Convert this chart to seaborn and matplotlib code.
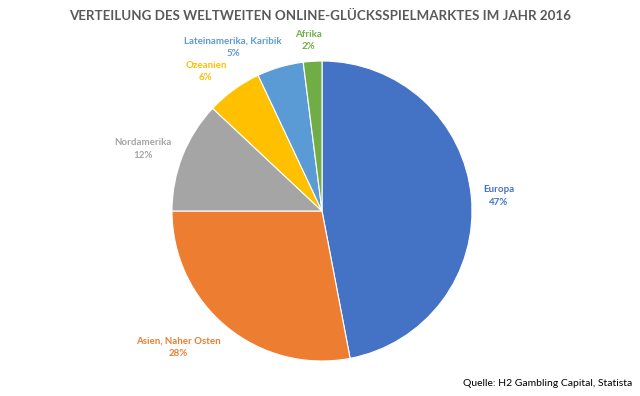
import matplotlib
matplotlib.use("Agg")
import matplotlib.pyplot as plt
import seaborn as sns
import numpy as np

categories = ["Europa", "Asien, Naher Osten", "Nordamerika", "Ozeanien", "Lateinamerika, Karibik", "Afrika"]
values = [47, 28, 12, 6, 5, 2]
colors = ["#4472C4", "#ED7D31", "#A5A5A5", "#FFC000", "#5B9BD5", "#70AD47"]
# label placement (angle in degrees, radius relative to pie radius)
label_layout = [(4.8, 1.18), (-136.6, 1.32), (160.9, 1.26), (129.8, 1.21), (118.5, 1.24), (94.7, 1.14)]

sns.set_theme(style="white")
plt.rcParams["font.family"] = ["Lato", "DejaVu Sans"]

fig = plt.figure(figsize=(6.4, 3.96), dpi=100)
ax = fig.add_axes([(322 - 150) / 640, (185 - 150) / 396, 300 / 640, 300 / 396])
wedges, _ = ax.pie(values, colors=colors, startangle=90, counterclock=False,
                   wedgeprops=dict(edgecolor="white", linewidth=0.8))
ax.set_xlim(-1, 1)
ax.set_ylim(-1, 1)
ax.set_aspect("equal")
ax.axis("off")

total = sum(values)
for cat, val, col, (ang, rad) in zip(categories, values, colors, label_layout):
    a = np.deg2rad(ang)
    ax.text(rad * np.cos(a), rad * np.sin(a), f"{cat}\n{round(100 * val / total)}%",
            ha="center", va="center", color=col, fontsize=7, fontweight="bold",
            linespacing=1.5)

fig.text(0.5, 1 - 16 / 396, "VERTEILUNG DES WELTWEITEN ONLINE-GLÜCKSSPIELMARKTES IM JAHR 2016",
         ha="center", va="center", fontsize=9.6, fontweight="bold", color="#595959")
fig.text(632 / 640, 1 - 383 / 396, "Quelle: H2 Gambling Capital, Statista",
         ha="right", va="center", fontsize=7.5, color="black")

fig.savefig("out.png", dpi=100, facecolor="white")
